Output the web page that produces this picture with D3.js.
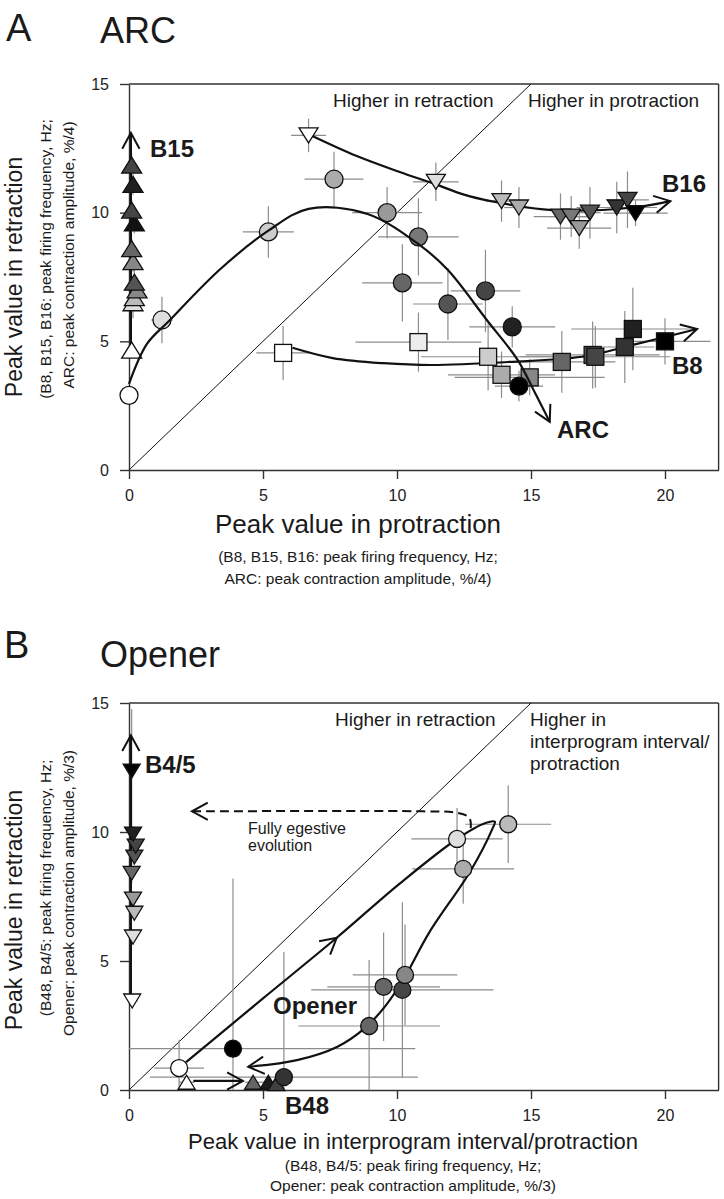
<!DOCTYPE html>
<html>
<head>
<meta charset="utf-8">
<script src="https://cdn.jsdelivr.net/npm/d3@7"></script>
<style>
body{margin:0;background:#fff;}
svg{display:block;font-family:"Liberation Sans",Arial,sans-serif;}
</style>
</head>
<body>
<div id="fig"></div>
<script>
let xTicks = [0,5,10,15,20];
let yTicks = [0,5,10,15];

// ---------- panel A : ARC ----------
let arcX = [0, 1.23, 5.2, 7.65, 9.63, 10.8, 10.2, 11.9, 13.3, 14.3, 14.55];
let arcY = [2.9, 5.83, 9.25, 11.3, 10.0, 9.06, 7.27, 6.45, 6.96, 5.56, 3.26];
let arcXe = [0, 0.4, 0.95, 1.1, 1.3, 1.5, 1.5, 1.3, 1.3, 1.6, 0.9];
let arcYe = [0, 0.9, 1.0, 1.07, 1.0, 1.5, 1.5, 1.4, 1.6, 0.8, 0.6];
let arcStage = [0, 0.13, 0.2, 0.33, 0.4, 0.53, 0.6, 0.67, 0.73, 0.87, 1];
let arcTrend = [[0,3.35],[0.67,4.9],[1.5,5.8],[3.4,7.8],[5.2,9.3],[6.7,10.15],[8.9,9.95],[10.9,8.7],[11.9,7.77],[13.35,5.83],[14.5,4.28],[15.1,3.1],[15.7,1.87]];

let b16X = [6.7, 11.45, 13.9, 14.55, 16.1, 16.5, 16.8, 17.2, 18.2, 18.6, 18.9];
let b16Y = [13.0, 11.2, 10.45, 10.2, 9.85, 9.85, 9.4, 10.0, 10.2, 10.5, 9.98];
let b16Xe = [0.65, 0.85, 0.6, 0.55, 1.0, 0.8, 1.2, 0.4, 1.5, 0.8, 1.2];
let b16Ye = [0.65, 0.75, 0.8, 0.8, 0.9, 0.8, 0.8, 1.0, 1.0, 1.1, 0.5];
let b16Stage = [0, 0.13, 0.27, 0.33, 0.6, 0.53, 0.4, 0.67, 0.8, 0.73, 1];
let b16Trend = [[6.8,13.0],[8.5,12.2],[10.1,11.58],[11.45,11.1],[12.5,10.7],[13.5,10.45],[15.8,10.1],[18.8,10.2],[20.2,10.45]];

let b8X = [5.75, 10.8, 13.4, 13.9, 14.95, 16.15, 17.3, 17.4, 18.5, 18.8, 20.0];
let b8Y = [4.55, 4.97, 4.4, 3.7, 3.6, 4.2, 4.47, 4.4, 4.78, 5.48, 5.0];
let b8Xe = [1.0, 2.35, 2.5, 2.0, 2.8, 2.0, 2.5, 2.8, 1.1, 2.3, 1.7];
let b8Ye = [1.05, 1.15, 1.3, 0.9, 0.7, 1.2, 1.3, 1.2, 1.4, 1.6, 0.9];
let b8Stage = [0, 0.07, 0.2, 0.33, 0.47, 0.6, 0.67, 0.73, 0.8, 0.87, 1];
let b8Trend = [[6.1,4.75],[7.6,4.35],[9.5,4.15],[11.3,4.08],[14.2,4.2],[16.9,4.4],[18.8,4.86],[21.2,5.48]];

let b15X = [0.1, 0.15, 0.2, 0.3, 0.2, 0.15, 0.1, 0.2, 0.1, 0.15, 0.1];
let b15Y = [4.66, 6.5, 6.7, 7.0, 7.3, 8.1, 8.6, 9.6, 10.1, 11.1, 11.85];
let b15Xe = [0.15, 0.2, 0.2, 0.2, 0.2, 0.15, 0.15, 0.15, 0.15, 0.15, 0.15];
let b15Ye = [0.3, 0.6, 0.5, 0.5, 0.5, 0.4, 0.4, 0.4, 0.4, 0.4, 0.4];
let b15Stage = [0, 0.13, 0.27, 0.47, 0.67, 0.47, 0.6, 0.93, 0.73, 0.87, 0.73];
let b15Trend = [[0.07,4.66],[0.07,13.1]];

// ---------- panel B : Opener ----------
let opX = [1.87, 3.88, 5.78, 8.96, 9.5, 10.2, 10.3, 12.47, 12.24, 14.15];
let opY = [0.85, 1.6, 0.5, 2.48, 4.0, 3.88, 4.46, 8.57, 9.73, 10.3];
let opXe = [0.93, 6.8, 5.0, 2.64, 2.1, 3.4, 1.95, 1.9, 1.7, 1.6];
let opYe = [1.1, 6.6, 4.85, 2.56, 2.1, 3.4, 1.95, 1.35, 1.2, 1.5];
let opStage = [0, 1, 0.8, 0.6, 0.6, 0.73, 0.47, 0.33, 0.13, 0.27];
let opTrend = [[2.13,1.08],[5.0,3.55],[7.75,5.9],[10.1,8.0],[12.24,9.73],[13.3,10.35],[13.65,10.4],[13.55,10.1],[12.75,8.5],[11.2,6.1],[10.3,4.4],[9.6,3.3],[8.8,2.4],[7.76,1.67],[6.27,1.16],[4.45,0.9]];
let opMidArrow = 2;   // index in opTrend of the chevron on the rising branch
let egestTrend = [[12.75,10.15],[12.7,10.55],[12.2,10.75],[11.0,10.8],[2.35,10.8]];

let b45X = [0.12, 0.15, 0.2, 0.15, 0.1, 0.2, 0.25, 0.15, 0.1];
let b45Y = [3.45, 5.93, 6.85, 7.4, 8.4, 9.03, 9.45, 9.92, 12.36];
let b45Xe = [0.2, 0.1, 0.1, 0.1, 0.1, 0.1, 0.1, 0.1, 0.1];
let b45Ye = [0.2, 0.3, 0.3, 0.3, 0.4, 0.3, 0.3, 0.3, 2.4];
let b45Stage = [0, 0.13, 0.27, 0.4, 0.6, 0.67, 0.73, 0.87, 1];
let b45Trend = [[0.07,3.45],[0.07,13.75]];

let b48X = [2.15, 4.63, 5.2, 5.5];
let b48Y = [0.3, 0.3, 0.3, 0.25];
let b48Xe = [0.3, 0.3, 0.3, 0.3];
let b48Ye = [0.15, 0.15, 0.15, 0.15];
let b48Stage = [0, 0.6, 0.9, 0.75];
let b48Trend = [[2.4,0.35],[4.25,0.35]];

let shade = d3.scaleLinear().domain([0,1]).range(['#ffffff','#000000']);

let svg = d3.select('#fig').append('svg')
    .attr('width',724)
    .attr('height',1199);

let xA = d3.scaleLinear().domain([0,22]).range([129,718.6]).clamp(true);
let yA = d3.scaleLinear().domain([0,15]).range([470,84]).clamp(true);
let xB = d3.scaleLinear().domain([0,22]).range([129,718.6]).clamp(true);
let yB = d3.scaleLinear().domain([0,15]).range([1090,703]).clamp(true);

function axes(g, x, y){
    let bottom = g.append('g')
        .attr('transform','translate(0,'+y(0)+')')
        .call(d3.axisBottom(x).tickValues(xTicks).tickSize(9).tickPadding(11).tickSizeOuter(0));
    let left = g.append('g')
        .attr('transform','translate('+x(0)+',0)')
        .call(d3.axisLeft(y).tickValues(yTicks).tickSize(9).tickPadding(11).tickSizeOuter(0));
    [bottom,left].forEach(function(a){
        a.selectAll('path,line').attr('stroke','#333').attr('stroke-width',1.4);
        a.selectAll('text').attr('fill','#222').style('font-size','16px');
    });
    g.append('line')
        .attr('x1',x(0)).attr('x2',x(22))
        .attr('y1',y(15)).attr('y2',y(15))
        .attr('stroke','#333').attr('stroke-width',1.4);
    g.append('line')
        .attr('x1',x(22)).attr('x2',x(22))
        .attr('y1',y(15)).attr('y2',y(0))
        .attr('stroke','#333').attr('stroke-width',1.4);
    // identity line
    g.append('line')
        .attr('x1',x(0)).attr('y1',y(0))
        .attr('x2',x(15)).attr('y2',y(15))
        .attr('stroke','#111').attr('stroke-width',1);
}

function errorBars(g, x, y, xs, ys, xe, ye){
    xs.forEach(function(v,i){
        if(xe[i]>0){
            g.append('line')
                .attr('x1',x(v-xe[i])).attr('x2',x(v+xe[i]))
                .attr('y1',y(ys[i])).attr('y2',y(ys[i]))
                .attr('stroke','#8c8c8c').attr('stroke-width',1.2);
        }
        if(ye[i]>0){
            g.append('line')
                .attr('x1',x(v)).attr('x2',x(v))
                .attr('y1',y(ys[i]-ye[i])).attr('y2',y(ys[i]+ye[i]))
                .attr('stroke','#8c8c8c').attr('stroke-width',1.2);
        }
    });
}

function chevron(g, px, py, ang){
    let len = 18, spread = 0.5;
    let a1 = ang + Math.PI - spread;
    let a2 = ang + Math.PI + spread;
    g.append('path')
        .attr('d','M'+(px+len*Math.cos(a1))+','+(py+len*Math.sin(a1))+'L'+px+','+py+'L'+(px+len*Math.cos(a2))+','+(py+len*Math.sin(a2)))
        .attr('fill','none')
        .attr('stroke','#111')
        .attr('stroke-width',2);
}

function trend(g, x, y, pts, dashed){
    let line = d3.line()
        .x(d=>x(d[0]))
        .y(d=>y(d[1]))
        .curve(d3.curveCatmullRom.alpha(0.5));
    let p = g.append('path')
        .datum(pts)
        .attr('d',line)
        .attr('fill','none')
        .attr('stroke','#111')
        .attr('stroke-width',2.2);
    if(dashed){
        p.attr('stroke-dasharray','9,5').attr('stroke-width',2);
    }
    let node = p.node();
    let L = node.getTotalLength();
    let p1 = node.getPointAtLength(L-3);
    let p2 = node.getPointAtLength(L);
    chevron(g, p2.x, p2.y, Math.atan2(p2.y-p1.y, p2.x-p1.x));
    return p;
}

function markers(g, x, y, xs, ys, stage, shape, w, h){
    xs.forEach(function(v,i){
        let cx = x(v), cy = y(ys[i]);
        let m;
        if(shape==='circle'){
            m = g.append('circle').attr('cx',cx).attr('cy',cy).attr('r',w/2);
        }
        else if(shape==='square'){
            m = g.append('rect').attr('x',cx-w/2).attr('y',cy-w/2).attr('width',w).attr('height',w);
        }
        else if(shape==='up'){
            m = g.append('path').attr('d','M'+cx+','+(cy-h/2)+'L'+(cx+w/2)+','+(cy+h/2)+'L'+(cx-w/2)+','+(cy+h/2)+'Z');
        }
        else{
            m = g.append('path').attr('d','M'+cx+','+(cy+h/2)+'L'+(cx+w/2)+','+(cy-h/2)+'L'+(cx-w/2)+','+(cy-h/2)+'Z');
        }
        m.attr('fill',shade(stage[i]))
            .attr('stroke','#111')
            .attr('stroke-width',1.3);
    });
}

function label(g, txt, x, y, size, opts){
    opts = opts || {};
    let t = g.append('text')
        .text(txt)
        .attr('x',x)
        .attr('y',y)
        .attr('fill','#1a1a1a')
        .style('font-size',size+'px');
    if(opts.bold) t.style('font-weight','bold');
    if(opts.anchor) t.attr('text-anchor',opts.anchor);
    return t;
}

function vlabel(g, txt, x, y, size){
    g.append('text')
        .text(txt)
        .attr('transform','translate('+x+','+y+') rotate(-90)')
        .attr('text-anchor','middle')
        .attr('fill','#1a1a1a')
        .style('font-size',size+'px');
}

// ================= panel A =================
let gA = svg.append('g').attr('id','panelA');
axes(gA, xA, yA);
errorBars(gA, xA, yA, arcX, arcY, arcXe, arcYe);
errorBars(gA, xA, yA, b16X, b16Y, b16Xe, b16Ye);
errorBars(gA, xA, yA, b8X, b8Y, b8Xe, b8Ye);
errorBars(gA, xA, yA, b15X, b15Y, b15Xe, b15Ye);

trend(gA, xA, yA, b15Trend);
trend(gA, xA, yA, b16Trend);
trend(gA, xA, yA, b8Trend);
markers(gA, xA, yA, b15X, b15Y, b15Stage, 'up', 20, 16);
markers(gA, xA, yA, b16X, b16Y, b16Stage, 'down', 19, 15);
markers(gA, xA, yA, b8X, b8Y, b8Stage, 'square', 17);
markers(gA, xA, yA, arcX, arcY, arcStage, 'circle', 18);
trend(gA, xA, yA, arcTrend);

label(gA,'A',6,41,38);
label(gA,'ARC',100,43,36);
label(gA,'Higher in retraction',333,107,19);
label(gA,'Higher in protraction',528,107,19);
label(gA,'B15',150,157,24,{bold:true});
label(gA,'B16',662,192,24,{bold:true});
label(gA,'B8',672,374,24,{bold:true});
label(gA,'ARC',557,438,24,{bold:true});
label(gA,'Peak value in protraction',358,533,26,{anchor:'middle'});
label(gA,'(B8, B15, B16: peak firing frequency, Hz;',358,562,15.5,{anchor:'middle'});
label(gA,'ARC: peak contraction amplitude, %/4)',358,584,15.5,{anchor:'middle'});
vlabel(gA,'Peak value in retraction',22,277,23);
vlabel(gA,'(B8, B15, B16: peak firing frequency, Hz;',51,259,15.5);
vlabel(gA,'ARC: peak contraction amplitude, %/4)',74,255,15.5);

// ================= panel B =================
let gB = svg.append('g').attr('id','panelB');
axes(gB, xB, yB);
errorBars(gB, xB, yB, opX, opY, opXe, opYe);
errorBars(gB, xB, yB, b45X, b45Y, b45Xe, b45Ye);
errorBars(gB, xB, yB, b48X, b48Y, b48Xe, b48Ye);

trend(gB, xB, yB, b45Trend);
trend(gB, xB, yB, b48Trend);
trend(gB, xB, yB, egestTrend, true);
trend(gB, xB, yB, opTrend);
// chevron on the rising branch of the loop
let pa = opTrend[opMidArrow-1], pb = opTrend[opMidArrow+1], pm = opTrend[opMidArrow];
chevron(gB, xB(pm[0]), yB(pm[1]), Math.atan2(yB(pb[1])-yB(pa[1]), xB(pb[0])-xB(pa[0])));

markers(gB, xB, yB, b45X, b45Y, b45Stage, 'down', 17, 14);
markers(gB, xB, yB, b48X, b48Y, b48Stage, 'up', 17, 14);
markers(gB, xB, yB, opX, opY, opStage, 'circle', 17);

label(gB,'B',4,658,38);
label(gB,'Opener',100,667,36);
label(gB,'Higher in retraction',335,726,19);
label(gB,'Higher in',530,726,19);
label(gB,'interprogram interval/',530,748,19);
label(gB,'protraction',530,770,19);
label(gB,'Fully egestive',248,834,16);
label(gB,'evolution',248,851,16);
label(gB,'B4/5',145,773,24,{bold:true});
label(gB,'Opener',273,1014,24,{bold:true});
label(gB,'B48',285,1114,24,{bold:true});
label(gB,'Peak value in interprogram interval/protraction',413,1149,22,{anchor:'middle'});
label(gB,'(B48, B4/5: peak firing frequency, Hz;',413,1171,15.5,{anchor:'middle'});
label(gB,'Opener: peak contraction amplitude, %/3)',413,1191,15.5,{anchor:'middle'});
vlabel(gB,'Peak value in retraction',22,910,23);
vlabel(gB,'(B48, B4/5: peak firing frequency, Hz;',51,888,15.5);
vlabel(gB,'Opener: peak contraction amplitude, %/3)',74,893,15.5);
</script>
</body>
</html>
